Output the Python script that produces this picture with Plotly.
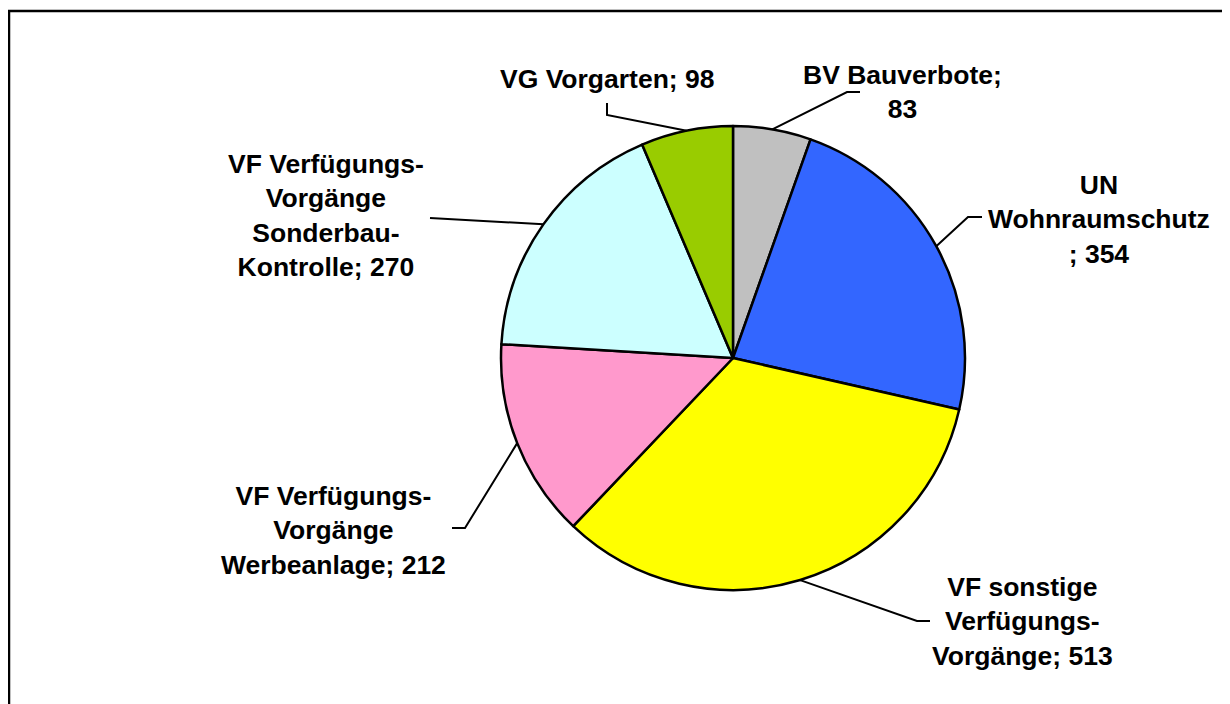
import math
import plotly.graph_objects as go

categories = ["BV Bauverbote", "UN Wohnraumschutz", "VF sonstige Verfügungs-Vorgänge",
              "VF Verfügungs-Vorgänge Werbeanlage", "VF Verfügungs-Vorgänge Sonderbau-Kontrolle",
              "VG Vorgarten"]
values = [83, 354, 513, 212, 270, 98]
label_texts = ["BV Bauverbote;<br>83", "UN<br>Wohnraumschutz<br>; 354",
               "VF sonstige<br>Verfügungs-<br>Vorgänge; 513",
               "VF Verfügungs-<br>Vorgänge<br>Werbeanlage; 212",
               "VF Verfügungs-<br>Vorgänge<br>Sonderbau-<br>Kontrolle; 270",
               "VG Vorgarten; 98"]
colors = ["#C0C0C0", "#3366FF", "#FFFF00", "#FF99CC", "#CCFFFF", "#99CC00"]

W, H = 1230, 704
OFF = 8  # page body margin
CX, CY, R = 733, 358, 232

# layout of labels (pixel positions): label centre, elbow point, line end
label_pos = [(902, 92), (1099, 219), (1022, 621), (333, 530), (326, 216), (607, 79)]
elbows = [[(847, 92), (860, 92)], [(968, 217), (982, 217)], [(917, 621), (930, 621)],
          [(465, 528), (452, 528)], [(430, 218)], [(607, 115), (607, 103)]]

def px(x):
    return (x - OFF) / W

def py(y):
    return 1 - (y - OFF) / H

fig = go.Figure(go.Pie(
    labels=categories, values=values, sort=False, direction="clockwise", rotation=0,
    marker=dict(colors=colors, line=dict(color="black", width=2.5)),
    textinfo="none", hoverinfo="label+value", showlegend=False,
    domain=dict(x=[px(CX - R), px(CX + R)], y=[py(CY + R), py(CY - R)]),
))

total = sum(values)
cum = 0
shapes = []
annotations = []
for i, v in enumerate(values):
    mid = (cum + v / 2) / total * 2 * math.pi
    cum += v
    ex = CX + R * math.sin(mid)
    ey = CY - R * math.cos(mid)
    pts = [(ex, ey)] + elbows[i]
    path = "M " + " L ".join(f"{px(a):.5f},{py(b):.5f}" for a, b in pts)
    shapes.append(dict(type="path", xref="paper", yref="paper", path=path,
                       line=dict(color="black", width=2)))
    lx, ly = label_pos[i]
    annotations.append(dict(text=label_texts[i], x=px(lx), y=py(ly), xref="paper", yref="paper",
                            xanchor="center", yanchor="middle", showarrow=False, align="center",
                            font=dict(family="Liberation Sans, Arial", size=26.5, color="black",
                                      weight="bold")))

# outer chart frame
shapes.append(dict(type="rect", xref="paper", yref="paper", x0=px(9), x1=1.2, y0=-0.2, y1=py(11),
                   line=dict(color="black", width=2.5), fillcolor="rgba(0,0,0,0)"))

fig.update_layout(width=W, height=H, margin=dict(l=0, r=0, t=0, b=0),
                  paper_bgcolor="white", plot_bgcolor="white",
                  shapes=shapes, annotations=annotations)

fig.write_html("out.html")
